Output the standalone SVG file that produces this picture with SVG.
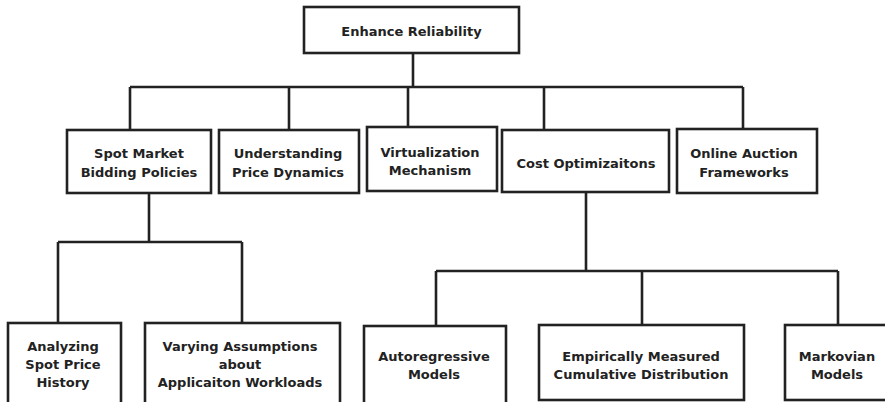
<svg xmlns="http://www.w3.org/2000/svg" width="885" height="402" viewBox="0 0 885 402">
  <style>
    .box { fill: #ffffff; stroke: #222222; stroke-width: 2.6; }
    .wire { fill: none; stroke: #222222; stroke-width: 2.6; stroke-linejoin: miter; }
    .lbl { font-family: "DejaVu Sans", Verdana, sans-serif; font-weight: bold; font-size: 13px; fill: #222222; text-anchor: middle; }
  </style>
  <rect width="885" height="402" fill="#ffffff"/>

  <!-- connectors -->
  <g id="connectors">
    <path class="wire" d="M413 53 V87 M130 87 H743 M130 87 V130 M289 87 V130 M408 87 V127 M544 87 V130 M743 87 V129"/>
    <path class="wire" d="M149 193 V242 M58 242 H242 M58 242 V323 M242 242 V323"/>
    <path class="wire" d="M586 192 V271 M436 271 H838 M436 271 V326 M642 271 V325 M838 271 V325"/>
  </g>

  <!-- root -->
  <g id="enhance-reliability">
    <rect class="box" x="304" y="7" width="215" height="46"/>
    <text class="lbl" x="411.5" y="36">Enhance Reliability</text>
  </g>

  <!-- second level -->
  <g id="spot-market">
    <rect class="box" x="67" y="130" width="144" height="63"/>
    <text class="lbl" x="139" y="157.5">Spot Market</text>
    <text class="lbl" x="139" y="176.5">Bidding Policies</text>
  </g>
  <g id="price-dynamics">
    <rect class="box" x="219" y="130" width="140" height="63"/>
    <text class="lbl" x="288" y="157.5">Understanding</text>
    <text class="lbl" x="288" y="176.5">Price Dynamics</text>
  </g>
  <g id="virtualization">
    <rect class="box" x="367" y="127" width="130" height="64"/>
    <text class="lbl" x="430" y="156.5">Virtualization</text>
    <text class="lbl" x="430" y="174.5">Mechanism</text>
  </g>
  <g id="cost-optimizations">
    <rect class="box" x="502" y="130" width="167" height="62"/>
    <text class="lbl" x="586" y="167.5">Cost Optimizaitons</text>
  </g>
  <g id="online-auction">
    <rect class="box" x="677" y="129" width="140" height="64"/>
    <text class="lbl" x="744" y="157.5">Online Auction</text>
    <text class="lbl" x="744" y="176.5">Frameworks</text>
  </g>

  <!-- third level -->
  <g id="analyzing-history">
    <rect class="box" x="8" y="323" width="113" height="90"/>
    <text class="lbl" x="63" y="350.5">Analyzing</text>
    <text class="lbl" x="63" y="368.5">Spot Price</text>
    <text class="lbl" x="63" y="386.5">History</text>
  </g>
  <g id="varying-assumptions">
    <rect class="box" x="145" y="323" width="195" height="90"/>
    <text class="lbl" x="240" y="350.5">Varying Assumptions</text>
    <text class="lbl" x="240" y="368.5">about</text>
    <text class="lbl" x="240" y="386.5">Applicaiton Workloads</text>
  </g>
  <g id="autoregressive">
    <rect class="box" x="364" y="326" width="142" height="90"/>
    <text class="lbl" x="434" y="360.5">Autoregressive</text>
    <text class="lbl" x="434" y="378.5">Models</text>
  </g>
  <g id="empirical-distribution">
    <rect class="box" x="539" y="325" width="205" height="75"/>
    <text class="lbl" x="641" y="360.5">Empirically Measured</text>
    <text class="lbl" x="641" y="378.5">Cumulative Distribution</text>
  </g>
  <g id="markovian">
    <rect class="box" x="785" y="325" width="120" height="75"/>
    <text class="lbl" x="837" y="360.5">Markovian</text>
    <text class="lbl" x="837" y="378.5">Models</text>
  </g>
</svg>
